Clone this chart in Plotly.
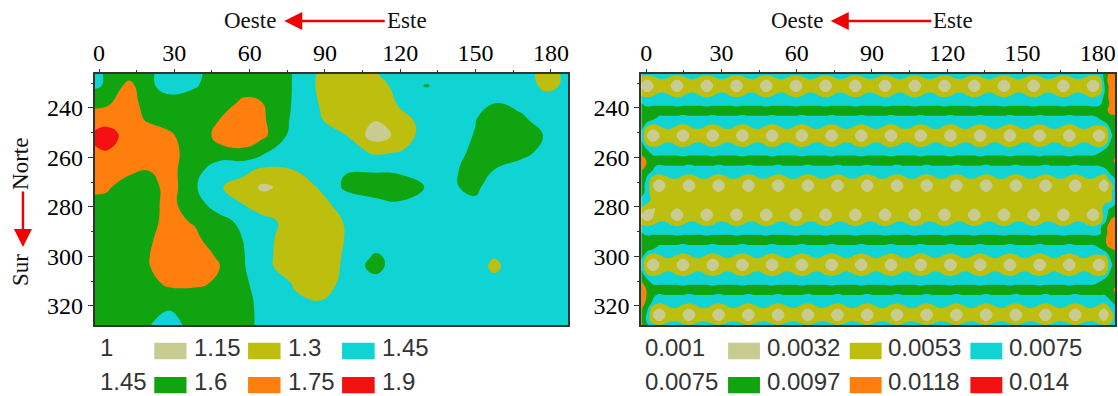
import plotly.graph_objects as go

# ---------- left panel data ----------
left_x = [-2, 3, 12, 20, 28, 38, 48, 58, 65, 78, 88, 98, 110, 120, 130.5, 140, 150, 157.5, 168, 178, 188]
left_y = [226, 231, 238, 245, 251, 258, 265, 272, 279, 286, 293, 300, 304, 311, 318, 328]
left_z = [
    [1.42, 1.463, 1.53, 1.47, 1.396, 1.42, 1.51, 1.54, 1.55, 1.44, 1.277, 1.22, 1.295, 1.37, 1.40, 1.41, 1.41, 1.40, 1.36, 1.253, 1.337],
    [1.42, 1.469, 1.65, 1.468, 1.41, 1.44, 1.50, 1.54, 1.55, 1.44, 1.269, 1.20, 1.18, 1.40, 1.457, 1.40, 1.41, 1.40, 1.36, 1.272, 1.326],
    [1.58, 1.577, 1.68, 1.511, 1.49, 1.50, 1.54, 1.629, 1.602, 1.431, 1.291, 1.21, 1.17, 1.325, 1.39, 1.41, 1.43, 1.448, 1.41, 1.36, 1.40],
    [1.64, 1.69, 1.66, 1.582, 1.53, 1.52, 1.602, 1.69, 1.625, 1.414, 1.315, 1.204, 1.155, 1.25, 1.352, 1.41, 1.448, 1.52, 1.48, 1.388, 1.39],
    [1.79, 1.83, 1.681, 1.68, 1.63, 1.487, 1.653, 1.70, 1.642, 1.383, 1.35, 1.305, 1.073, 1.193, 1.382, 1.42, 1.454, 1.56, 1.56, 1.435, 1.39],
    [1.72, 1.74, 1.68, 1.67, 1.65, 1.528, 1.55, 1.56, 1.47, 1.37, 1.38, 1.37, 1.279, 1.307, 1.40, 1.42, 1.468, 1.55, 1.47, 1.43, 1.41],
    [1.66, 1.66, 1.63, 1.605, 1.64, 1.52, 1.345, 1.33, 1.276, 1.302, 1.38, 1.44, 1.44, 1.42, 1.40, 1.44, 1.47, 1.449, 1.42, 1.41, 1.41],
    [1.63, 1.618, 1.54, 1.526, 1.67, 1.47, 1.31, 1.2475, 1.12, 1.21, 1.315, 1.474, 1.50, 1.53, 1.442, 1.4345, 1.48, 1.38, 1.40, 1.41, 1.41],
    [1.56, 1.56, 1.56, 1.57, 1.628, 1.543, 1.349, 1.298, 1.24, 1.22, 1.25, 1.362, 1.42, 1.43, 1.41, 1.41, 1.42, 1.41, 1.41, 1.41, 1.41],
    [1.53, 1.54, 1.55, 1.57, 1.634, 1.59, 1.53, 1.386, 1.34, 1.254, 1.20, 1.31, 1.38, 1.40, 1.41, 1.41, 1.41, 1.41, 1.41, 1.41, 1.41],
    [1.53, 1.54, 1.55, 1.58, 1.67, 1.63, 1.523, 1.443, 1.35, 1.216, 1.18, 1.305, 1.37, 1.40, 1.41, 1.41, 1.41, 1.39, 1.41, 1.41, 1.41],
    [1.53, 1.54, 1.56, 1.597, 1.70, 1.67, 1.5825, 1.452, 1.35, 1.203, 1.18, 1.321, 1.47, 1.40, 1.38, 1.36, 1.33, 1.31, 1.36, 1.40, 1.41],
    [1.53, 1.54, 1.56, 1.595, 1.70, 1.69, 1.602, 1.455, 1.35, 1.204, 1.18, 1.33, 1.51, 1.35, 1.38, 1.40, 1.38, 1.26, 1.42, 1.41, 1.41],
    [1.53, 1.54, 1.55, 1.56, 1.625, 1.625, 1.58, 1.468, 1.40, 1.288, 1.22, 1.343, 1.38, 1.39, 1.40, 1.41, 1.40, 1.36, 1.40, 1.41, 1.41],
    [1.53, 1.53, 1.52, 1.50, 1.50, 1.51, 1.52, 1.50, 1.40, 1.32, 1.302, 1.36, 1.39, 1.40, 1.41, 1.41, 1.41, 1.41, 1.41, 1.41, 1.41],
    [1.52, 1.52, 1.50, 1.455, 1.37, 1.521, 1.52, 1.50, 1.41, 1.39, 1.38, 1.39, 1.41, 1.41, 1.41, 1.41, 1.41, 1.41, 1.41, 1.41, 1.41],
]

# ---------- right panel data ----------
right_x = [-1.96, 0.41, 2.78, 5.15, 7.52, 9.89, 12.26, 14.63, 17.0, 19.37, 21.74, 24.11, 26.48, 28.85, 31.22, 33.59,
           35.96, 38.33, 40.7, 43.07, 45.44, 47.81, 50.18, 52.55, 54.92, 57.29, 59.66, 62.03, 64.4, 66.77, 69.14, 71.51,
           73.88, 76.25, 78.62, 80.99, 83.36, 85.73, 88.1, 90.47, 92.84, 95.21, 97.58, 99.95, 102.32, 104.69, 107.06, 109.43,
           111.8, 114.17, 116.54, 118.91, 121.28, 123.65, 126.02, 128.39, 130.76, 133.13, 135.5, 137.87, 140.24, 142.61, 144.98, 147.35,
           149.72, 152.09, 154.46, 156.83, 159.2, 161.57, 163.94, 166.31, 168.68, 171.05, 173.42, 175.79, 178.16, 180.53, 182.9, 185.27, 187.64]
right_y = [226, 228.7, 231.1, 233.5, 236, 238.5, 241.15, 243.8, 246.3, 248.8, 251.2, 253.6, 256.1, 258.6, 261.3, 264,
           266.5, 269, 271.4, 273.8, 277.3, 280.8, 283.2, 285.6, 288.1, 290.6, 293.3, 296, 298.5, 301, 303.4, 305.8,
           308.3, 310.8, 313.5, 316.2, 318.7, 321.2, 323.6, 326, 327.7]
# each character is one sample, read against the value table below
right_code_values = {"0": 0.0015, "1": 0.0031, "e": 0.0033, "2": 0.0042, "3": 0.0050, "4": 0.0056, "5": 0.0064, "6": 0.0069,
                     "7": 0.0078, "8": 0.0088, "9": 0.0094, "a": 0.0100, "b": 0.0110, "c": 0.0125}
right_rows = [
    "65666 65666 65666 65666 65666 65666 65666 65666 65666 65666 65666 65666 65666 65666 65666 6567bc",
    "e1e33 e1e33 e1e33 e1e33 e1e33 e1e33 e1e33 e1e33 e1e33 e1e33 e1e33 e1e33 e1e33 e1e33 e1e33 e1e8bb",
    "10122 10122 10122 10122 10122 10122 10122 10122 10122 10122 10122 10122 10122 10122 10122 1017bb",
    "e1e33 e1e33 e1e33 e1e33 e1e33 e1e33 e1e33 e1e33 e1e33 e1e33 e1e33 e1e33 e1e33 e1e33 e1e33 e1e7bb",
    "54566 54566 54566 54566 54566 54566 54566 54566 54566 54566 54566 54566 54566 54566 54566 5467bb",
    "75666 65666 65666 65666 65666 65666 65666 65666 65666 65666 65666 65666 65666 65666 65666 6568aa",
    "99999 99999 99999 99999 99999 99999 99999 99999 99999 99999 99999 99999 99999 99999 99999 9999aa",
    "99866 66566 66566 66566 66566 66566 66566 66566 66566 66566 66566 66566 66566 66566 66566 667999",
    "96456 65456 65456 65456 65456 65456 65456 65456 65456 65456 65456 65456 65456 65456 65456 655689",
    "7e1e3 3e1e3 3e1e3 3e1e3 3e1e3 3e1e3 3e1e3 3e1e3 3e1e3 3e1e3 3e1e3 3e1e3 3e1e3 3e1e3 3e1e3 3e1e79",
    "61012 21012 21012 21012 21012 21012 21012 21012 21012 21012 21012 21012 21012 21012 21012 210169",
    "7e1e3 3e1e3 3e1e3 3e1e3 3e1e3 3e1e3 3e1e3 3e1e3 3e1e3 3e1e3 3e1e3 3e1e3 3e1e3 3e1e3 3e1e3 3e1e79",
    "86456 65456 65456 65456 65456 65456 65456 65456 65456 65456 65456 65456 65456 65456 65456 654689",
    "98666 66566 66566 66566 66566 66566 66566 66566 66566 66566 66566 66566 66566 66566 66566 667999",
    "b9999 99999 99999 99999 99999 99999 99999 99999 99999 99999 99999 99999 99999 99999 99999 99999a",
    "a9756 66656 66656 66656 66656 66656 66656 66656 66656 66656 66656 66656 66656 66656 66656 666799",
    "97645 66545 66545 66545 66545 66545 66545 66545 66545 66545 66545 66545 66545 66545 66545 665479",
    "96e1e 33e1e 33e1e 33e1e 33e1e 33e1e 33e1e 33e1e 33e1e 33e1e 33e1e 33e1e 33e1e 33e1e 33e1e 33e157",
    "85101 22101 22101 22101 22101 22101 22101 22101 22101 22101 22101 22101 22101 22101 22101 221027",
    "85e1e 22e1e 22e1e 22e1e 22e1e 22e1e 22e1e 22e1e 22e1e 22e1e 22e1e 22e1e 22e1e 22e1e 22e1e 22e136",
    "65222 22222 22222 22222 22222 22222 22222 22222 22222 22222 22222 22222 22222 22222 22222 222236",
    "3e1e2 e1e22 e1e22 e1e22 e1e22 e1e22 e1e22 e1e22 e1e22 e1e22 e1e22 e1e22 e1e22 e1e22 e1e22 e1e678",
    "10122 10122 10122 10122 10122 10122 10122 10122 10122 10122 10122 10122 10122 10122 10122 101589",
    "e1e33 e1e33 e1e33 e1e33 e1e33 e1e33 e1e33 e1e33 e1e33 e1e33 e1e33 e1e33 e1e33 e1e33 e1e33 e1e6ab",
    "54566 54566 54566 54566 54566 54566 54566 54566 54566 54566 54566 54566 54566 54566 54566 5468bb",
    "75666 65666 65666 65666 65666 65666 65666 65666 65666 65666 65666 65666 65666 65666 65666 6568bb",
    "99999 99999 99999 99999 99999 99999 99999 99999 99999 99999 99999 99999 99999 99999 99999 9999bb",
    "99866 66566 66566 66566 66566 66566 66566 66566 66566 66566 66566 66566 66566 66566 66566 6679ab",
    "96456 65456 65456 65456 65456 65456 65456 65456 65456 65456 65456 65456 65456 65456 65456 655689",
    "7e1e3 3e1e3 3e1e3 3e1e3 3e1e3 3e1e3 3e1e3 3e1e3 3e1e3 3e1e3 3e1e3 3e1e3 3e1e3 3e1e3 3e1e3 3e1e79",
    "61012 21012 21012 21012 21012 21012 21012 21012 21012 21012 21012 21012 21012 21012 21012 210169",
    "7e1e3 3e1e3 3e1e3 3e1e3 3e1e3 3e1e3 3e1e3 3e1e3 3e1e3 3e1e3 3e1e3 3e1e3 3e1e3 3e1e3 3e1e3 3e1e79",
    "86456 65456 65456 65456 65456 65456 65456 65456 65456 65456 65456 65456 65456 65456 65456 654689",
    "a8666 66566 66566 66566 66566 66566 66566 66566 66566 66566 66566 66566 66566 66566 66566 667999",
    "b9999 99999 99999 99999 99999 99999 99999 99999 99999 99999 99999 99999 99999 99999 99999 99999a",
    "b9756 66656 66656 66656 66656 66656 66656 66656 66656 66656 66656 66656 66656 66656 66656 666689",
    "b8645 66545 66545 66545 66545 66545 66545 66545 66545 66545 66545 66545 66545 66545 66545 665468",
    "a7e1e 33e1e 33e1e 33e1e 33e1e 33e1e 33e1e 33e1e 33e1e 33e1e 33e1e 33e1e 33e1e 33e1e 33e1e 33e146",
    "a6101 22101 22101 22101 22101 22101 22101 22101 22101 22101 22101 22101 22101 22101 22101 221026",
    "a6e1e 33e1e 33e1e 33e1e 33e1e 33e1e 33e1e 33e1e 33e1e 33e1e 33e1e 33e1e 33e1e 33e1e 33e1e 33e135",
    "a7535 66535 66535 66535 66535 66535 66535 66535 66535 66535 66535 66535 66535 66535 66535 665346",
]
right_z = [[right_code_values[c] for c in row.replace(" ", "")] for row in right_rows]

# ---------- labels / styling ----------
x_ticks = [0, 30, 60, 90, 120, 150, 180]
x_minor = [15, 45, 75, 105, 135, 165]
y_ticks = [240, 260, 280, 300, 320]
y_minor = [230, 250, 270, 290, 310]
band_colors = ["#C9CC90", "#BEBE0E", "#10D4D4", "#10A510", "#FF7F0E", "#F21010"]
left_levels = [1.0, 1.15, 1.3, 1.45, 1.6, 1.75, 1.9]
right_levels = [0.001, 0.0032, 0.0053, 0.0075, 0.0097, 0.0118, 0.014]
left_legend = [["1", "1.15", "1.3", "1.45"], ["1.45", "1.6", "1.75", "1.9"]]
right_legend = [["0.001", "0.0032", "0.0053", "0.0075"], ["0.0075", "0.0097", "0.0118", "0.014"]]

W, H = 1118, 396
def px(v): return v / W
def py(v): return 1 - v / H

def scale():
    n = len(band_colors)
    out = []
    for i, c in enumerate(band_colors):
        out += [[i / n, c], [(i + 1) / n, c]]
    return out

fig = go.Figure()
for x, y, z, lv, xa, ya in [(left_x, left_y, left_z, left_levels, "x", "y"),
                            (right_x, right_y, right_z, right_levels, "x2", "y2")]:
    fig.add_trace(go.Contour(
        x=x, y=y, z=z, xaxis=xa, yaxis=ya, showscale=False, hoverinfo="skip",
        colorscale=scale(), zmin=lv[0], zmax=lv[-1],
        contours=dict(start=lv[0], end=lv[-1], size=(lv[-1] - lv[0]) / 6, coloring="fill", showlines=False),
        line=dict(width=0, smoothing=1.3),
    ))

tick_font = dict(family="Liberation Serif", size=24, color="#000")
def xaxis(l, r, x0, x1, anchor):
    return dict(domain=[px(l), px(r)], range=[x0, x1], side="top", anchor=anchor, tickvals=x_ticks,
                ticks="outside", ticklen=3, tickwidth=1.2, tickcolor="#333", tickfont=tick_font,
                ticklabelstandoff=-2, showgrid=False, zeroline=False, showline=True, mirror=True,
                linecolor="#333", linewidth=2,
                minor=dict(tickvals=x_minor, ticks="outside", ticklen=2, tickwidth=1, tickcolor="#333"))
def yaxis(anchor):
    return dict(domain=[py(325), py(74)], range=[327.7, 226.3], anchor=anchor, tickvals=y_ticks,
                ticks="outside", ticklen=5, tickwidth=1.2, tickcolor="#333", tickfont=tick_font,
                ticklabelstandoff=0, showgrid=False, zeroline=False, showline=True, mirror=True,
                linecolor="#333", linewidth=2,
                minor=dict(tickvals=y_minor, ticks="outside", ticklen=2, tickwidth=1, tickcolor="#333"))

annotations = []
shapes = []
serif = dict(family="Liberation Serif", size=23, color="#111")
def text(x, y, s, font, xanchor="left", rot=0):
    annotations.append(dict(x=px(x), y=py(y), xref="paper", yref="paper", text=s, showarrow=False,
                            font=font, xanchor=xanchor, yanchor="middle", textangle=rot))
def arrow(x, y, ax, ay):
    annotations.append(dict(x=px(x), y=py(y), xref="paper", yref="paper", text="", showarrow=True, ax=ax, ay=ay,
                            arrowcolor="#F20000", arrowwidth=2.4, arrowhead=2, arrowsize=1.5))

for off in [0, 548]:
    text(221 + off, 21, "Oeste", serif)
    text(384 + off, 21, "Este", serif)
    arrow(283 + off, 21, 102, 0)
text(18, 164, "Norte", serif, "center", -90)
text(18, 270, "Sur", serif, "center", -90)
arrow(21, 247, 0, -57)

sans = dict(family="Liberation Sans", size=24, color="#333")
rows_y = [(347.5, 342.7, 359.3), (381, 377, 393.3)]
left_tx = [96, 191, 285, 379]
left_sw = [(152.7, 185), (246.7, 279.3), (341, 373.7)]
right_tx = [643, 765, 886, 1008]
right_sw = [(728, 760), (850, 882), (971, 1003)]
for labels, tx, sw, in [(left_legend, left_tx, left_sw), (right_legend, right_tx, right_sw)]:
    for r, (ty, y0, y1) in enumerate(rows_y):
        for i, s in enumerate(labels[r]):
            text(tx[i], ty, s, sans)
        for i, (x0, x1) in enumerate(sw):
            shapes.append(dict(type="rect", xref="paper", yref="paper", x0=px(x0), x1=px(x1), y0=py(y1), y1=py(y0),
                               fillcolor=band_colors[r * 3 + i], line=dict(width=0)))

fig.update_layout(
    width=W, height=H, margin=dict(l=0, r=0, t=0, b=0), paper_bgcolor="white", plot_bgcolor="white",
    showlegend=False, annotations=annotations, shapes=shapes,
    xaxis=xaxis(93, 568, -1.7, 187, "y"), yaxis=yaxis("x"),
    xaxis2=xaxis(641, 1116, -2, 186.9, "y2"), yaxis2=yaxis("x2"),
)
fig.write_html("out.html", config={"displayModeBar": False}, post_script="document.body.style.margin='0';")
